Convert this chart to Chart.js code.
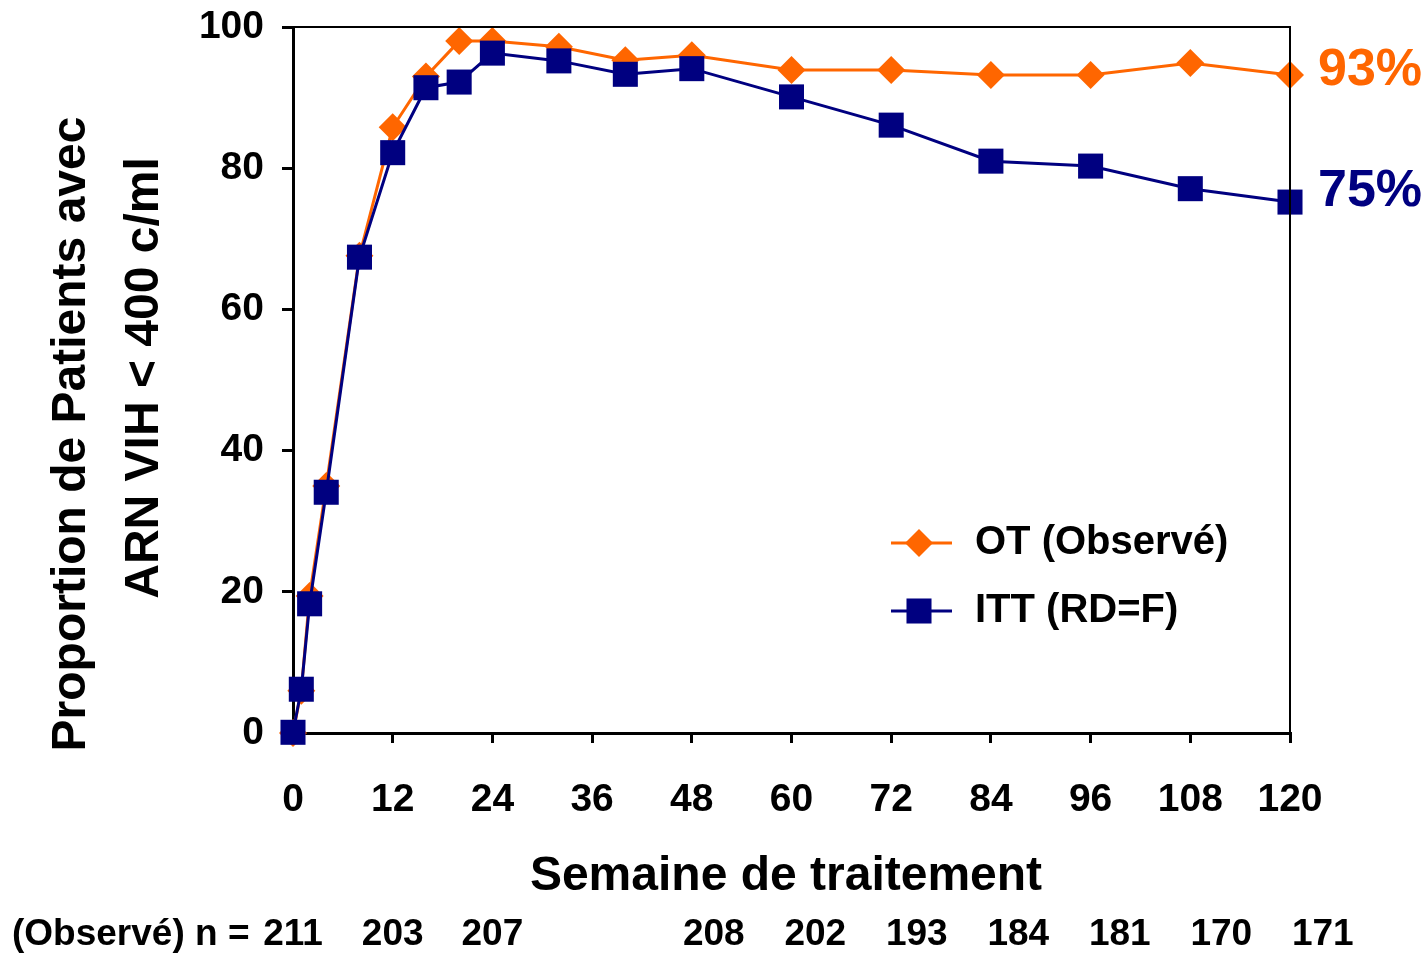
<!DOCTYPE html>
<html>
<head>
<meta charset="utf-8">
<script src="https://cdn.jsdelivr.net/npm/chart.js@4"></script>
<style>
  body { margin: 0; background: #fff; }
  #wrap { width: 1428px; height: 955px; position: relative; }
</style>
</head>
<body>
<div id="wrap"><canvas id="chart"></canvas></div>
<script>
// Weeks of treatment (x values)
const weeks = [0, 1, 2, 4, 8, 12, 16, 20, 24, 32, 40, 48, 60, 72, 84, 96, 108, 120];
// OT (Observé) series, % of patients
const otValues = [0, 6, 19.4, 35, 67.6, 85.8, 93, 98, 98, 97.2, 95.3, 96, 93.9, 93.9, 93.2, 93.2, 94.9, 93.2];
// ITT (RD=F) series, % of patients
const ittValues = [0.1, 6.2, 18.3, 34.1, 67.4, 82.2, 91.4, 92.2, 96.3, 95.2, 93.3, 94.1, 90.1, 86.1, 81.0, 80.3, 77.1, 75.2];
// Patient counts under the axis
const nWeeks = [0, 12, 24, 48, 60, 72, 84, 96, 108, 120];
const nCounts = [211, 203, 207, 208, 202, 193, 184, 181, 170, 171];
const endLabels = ["93%", "75%"];
const seriesNames = ["OT (Observé)", "ITT (RD=F)"];

const ORANGE = "#FF6600";
const NAVY = "#000080";
const FONT = "'Liberation Sans', Arial, sans-serif";

// custom drawing: titles, legend, frame, end labels, n row
const extras = {
    id: "extras",
    afterDraw(chart) {
        const ctx = chart.ctx;
        const area = chart.chartArea;
        const x = chart.scales.x;
        const y = chart.scales.y;
        ctx.save();

        // top and right frame
        ctx.strokeStyle = "#000";
        ctx.lineWidth = 2;
        ctx.beginPath();
        ctx.moveTo(area.left, area.top);
        ctx.lineTo(area.right, area.top);
        ctx.lineTo(area.right, area.bottom);
        ctx.stroke();

        // y axis titles
        ctx.fillStyle = "#000";
        ctx.font = "bold 48px " + FONT;
        ctx.textAlign = "center";
        ctx.textBaseline = "middle";
        ctx.save();
        ctx.translate(72, 434);
        ctx.rotate(-Math.PI / 2);
        ctx.fillText("Proportion de Patients avec", 0, 0);
        ctx.restore();
        ctx.save();
        ctx.translate(145, 378);
        ctx.rotate(-Math.PI / 2);
        ctx.fillText("ARN VIH < 400 c/ml", 0, 0);
        ctx.restore();

        // x axis title
        ctx.font = "bold 48px " + FONT;
        ctx.fillText("Semaine de traitement", 786, 877);

        // end labels
        ctx.font = "bold 52px " + FONT;
        ctx.textAlign = "left";
        ctx.fillStyle = ORANGE;
        ctx.fillText(endLabels[0], 1318, y.getPixelForValue(otValues[otValues.length - 1]) - 4);
        ctx.fillStyle = NAVY;
        ctx.fillText(endLabels[1], 1318, y.getPixelForValue(ittValues[ittValues.length - 1]) - 10);

        // legend
        const legend = [
            { color: ORANGE, style: "rectRot", r: 14, y: 543, text: seriesNames[0] },
            { color: NAVY, style: "rect", r: 17.7, y: 611, text: seriesNames[1] }
        ];
        legend.forEach(item => {
            ctx.strokeStyle = item.color;
            ctx.lineWidth = 3;
            ctx.beginPath();
            ctx.moveTo(891, item.y);
            ctx.lineTo(952, item.y);
            ctx.stroke();
            ctx.fillStyle = item.color;
            Chart.helpers.drawPoint(ctx, { pointStyle: item.style, radius: item.r, borderWidth: 0, rotation: 0 }, 919, item.y);
            ctx.fillStyle = "#000";
            ctx.font = "bold 40px " + FONT;
            ctx.textAlign = "left";
            ctx.fillText(item.text, 975, item.y);
        });

        // n row
        ctx.font = "bold 37px " + FONT;
        ctx.fillStyle = "#000";
        ctx.textAlign = "left";
        ctx.fillText("(Observé) n =", 12, 935);
        ctx.textAlign = "center";
        nWeeks.forEach((w, i) => {
            let px = x.getPixelForValue(w);
            if (w >= 48) px += 22 + (w - 48) / 12 * 1.8; // columns sit a bit right of ticks
            ctx.fillText(String(nCounts[i]), px, 935);
        });

        ctx.restore();
    }
};

const tickFont = { family: FONT, weight: "bold", size: 39 };

new Chart(document.getElementById("chart"), {
    type: "line",
    data: {
        datasets: [
            {
                label: seriesNames[1],
                data: weeks.map((w, i) => ({ x: w, y: ittValues[i] })),
                borderColor: NAVY,
                backgroundColor: NAVY,
                borderWidth: 3,
                pointStyle: "rect",
                pointRadius: 17.7,
                pointBorderWidth: 0,
                tension: 0,
                clip: false,
                order: 0
            },
            {
                label: seriesNames[0],
                data: weeks.map((w, i) => ({ x: w, y: otValues[i] })),
                borderColor: ORANGE,
                backgroundColor: ORANGE,
                borderWidth: 3,
                pointStyle: "rectRot",
                pointRadius: 14,
                pointBorderWidth: 0,
                tension: 0,
                clip: false,
                order: 1
            }
        ]
    },
    options: {
        responsive: true,
        maintainAspectRatio: false,
        animation: false,
        layout: { padding: { top: 27, right: 138, left: 0, bottom: 0 } },
        plugins: {
            legend: { display: false },
            tooltip: { enabled: false }
        },
        elements: { point: { hoverRadius: 0 } },
        scales: {
            x: {
                type: "linear",
                min: 0,
                max: 120,
                afterFit: s => { s.height = 222; },
                ticks: { stepSize: 12, color: "#000", font: tickFont, padding: 34, maxRotation: 0 },
                grid: { drawOnChartArea: false, color: "#000", lineWidth: 3, tickLength: 10 },
                border: { color: "#000", width: 3 }
            },
            y: {
                min: 0,
                max: 100,
                // fixed width, and no extra room for the top label
                afterFit: s => { s.width = 293; s.paddingTop = 0; s.paddingBottom = 0; },
                ticks: { stepSize: 20, color: "#000", font: tickFont, padding: 18 },
                grid: { drawOnChartArea: false, color: "#000", lineWidth: 3, tickLength: 11 },
                border: { color: "#000", width: 3 }
            }
        }
    },
    plugins: [extras]
});
</script>
</body>
</html>
